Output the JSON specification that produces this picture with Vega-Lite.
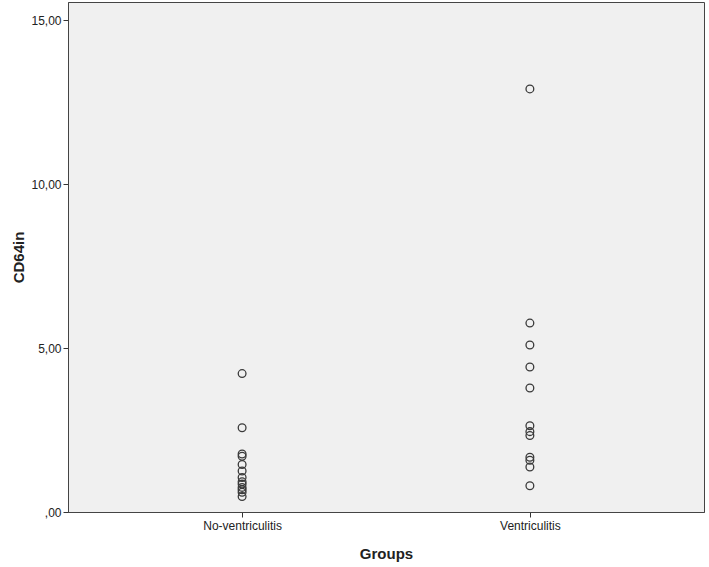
{
  "$schema": "https://vega.github.io/schema/vega-lite/v6.json",
  "autosize": "none",
  "width": 636,
  "height": 510,
  "padding": {"left": 68, "top": 2, "right": 5, "bottom": 55},
  "background": "#ffffff",
  "config": {
    "view": {"fill": "#f0f0f0", "stroke": "#444444", "strokeWidth": 1},
    "font": "Liberation Sans"
  },
  "data": {
    "values": [
      {"Groups": "No-ventriculitis", "CD64in": 4.22},
      {"Groups": "No-ventriculitis", "CD64in": 2.57},
      {"Groups": "No-ventriculitis", "CD64in": 1.77},
      {"Groups": "No-ventriculitis", "CD64in": 1.70},
      {"Groups": "No-ventriculitis", "CD64in": 1.45},
      {"Groups": "No-ventriculitis", "CD64in": 1.25},
      {"Groups": "No-ventriculitis", "CD64in": 1.05},
      {"Groups": "No-ventriculitis", "CD64in": 0.92},
      {"Groups": "No-ventriculitis", "CD64in": 0.85},
      {"Groups": "No-ventriculitis", "CD64in": 0.75},
      {"Groups": "No-ventriculitis", "CD64in": 0.68},
      {"Groups": "No-ventriculitis", "CD64in": 0.60},
      {"Groups": "No-ventriculitis", "CD64in": 0.47},
      {"Groups": "Ventriculitis", "CD64in": 12.9},
      {"Groups": "Ventriculitis", "CD64in": 5.76},
      {"Groups": "Ventriculitis", "CD64in": 5.09},
      {"Groups": "Ventriculitis", "CD64in": 4.42},
      {"Groups": "Ventriculitis", "CD64in": 3.78},
      {"Groups": "Ventriculitis", "CD64in": 2.63},
      {"Groups": "Ventriculitis", "CD64in": 2.45},
      {"Groups": "Ventriculitis", "CD64in": 2.33},
      {"Groups": "Ventriculitis", "CD64in": 1.67},
      {"Groups": "Ventriculitis", "CD64in": 1.58},
      {"Groups": "Ventriculitis", "CD64in": 1.37},
      {"Groups": "Ventriculitis", "CD64in": 0.80}
    ]
  },
  "mark": {"type": "point", "shape": "circle", "filled": false, "color": "#3a3a3a", "strokeWidth": 1.3, "size": 60, "opacity": 1},
  "encoding": {
    "x": {
      "field": "Groups",
      "type": "nominal",
      "scale": {"type": "point", "padding": 0.605},
      "axis": {
        "title": "Groups",
        "titleFontSize": 15,
        "titleFontWeight": "bold",
        "titleColor": "#222222",
        "titlePadding": 15,
        "labelAngle": 0,
        "labelFontSize": 12,
        "labelColor": "#222222",
        "labelPadding": 3,
        "tickSize": 5,
        "tickColor": "#333333",
        "domain": true,
        "domainColor": "#444444",
        "grid": false
      }
    },
    "y": {
      "field": "CD64in",
      "type": "quantitative",
      "scale": {"domain": [0, 15.55], "nice": false, "zero": true},
      "axis": {
        "title": "CD64in",
        "titleFontSize": 15,
        "titleFontWeight": "bold",
        "titleColor": "#222222",
        "titlePadding": 4,
        "values": [0, 5, 10, 15],
        "labelExpr": "datum.value == 0 ? ',00' : replace(format(datum.value, '.2f'), '.', ',')",
        "labelFontSize": 12,
        "labelColor": "#222222",
        "labelPadding": 2,
        "tickSize": 5,
        "tickColor": "#333333",
        "domain": true,
        "domainColor": "#444444",
        "grid": false
      }
    }
  }
}
